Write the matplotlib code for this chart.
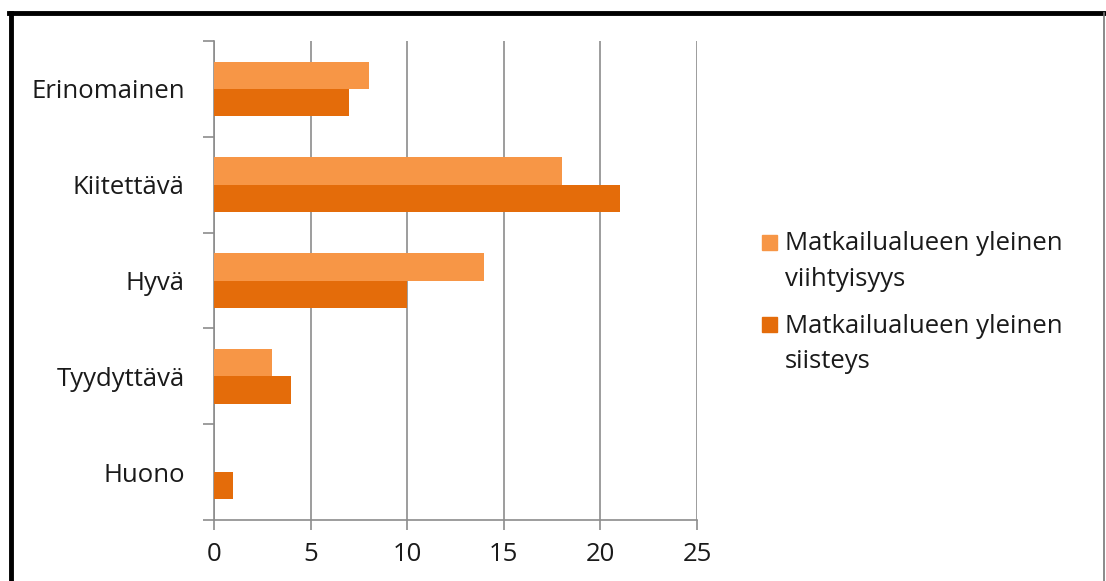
import matplotlib.pyplot as plt
import numpy as np
from matplotlib.lines import Line2D
from matplotlib.patches import Rectangle
from matplotlib.legend_handler import HandlerPatch

categories = ['Erinomainen', 'Kiitettävä', 'Hyvä', 'Tyydyttävä', 'Huono']
viihtyisyys = [8, 18, 14, 3, 0]
siisteys = [7, 21, 10, 4, 1]
series_labels = ['Matkailualueen yleinen\nviihtyisyys', 'Matkailualueen yleinen\nsiisteys']
xticks = [0, 5, 10, 15, 20, 25]

plt.rcParams['font.family'] = ['Open Sans', 'DejaVu Sans']
ftsize = 18.5
light = '#F79646'
dark = '#E46C0A'
axcol = '#8c8c8c'
txtcol = '#1a1a1a'


def top_square(legend, orig_handle, xdescent, ydescent, width, height, fontsize):
    # square next to the first line of a two-line label
    sq = 0.58 * fontsize
    return Rectangle((-xdescent, -ydescent + 0.78 * fontsize), sq, sq)


fig = plt.figure(figsize=(11.06, 5.81), dpi=100)
ax = fig.add_axes([0.1935, 0.105, 0.4367, 0.8244])

y = np.arange(len(categories))
h = 0.285
ax.barh(y - h / 2, viihtyisyys, height=h, color=light, zorder=3)
ax.barh(y + h / 2, siisteys, height=h, color=dark, zorder=3)

ax.set_xlim(0, 25)
ax.set_ylim(len(categories) - 0.5, -0.5)
ax.set_xticks(xticks)
ax.set_xticklabels([str(t) for t in xticks], fontsize=ftsize, color=txtcol)
ax.set_yticks(y)
ax.set_yticklabels(categories, fontsize=ftsize, color=txtcol)
ax.tick_params(axis='y', length=0, pad=21)
ax.set_yticks(np.arange(len(categories) + 1) - 0.5, minor=True)
ax.tick_params(axis='y', which='minor', length=8, color=axcol, width=1.2)
ax.tick_params(axis='x', length=7, color=axcol, width=1.2, pad=9)
ax.xaxis.grid(True, color=axcol, lw=1.2, zorder=0)

for s in ['top', 'right']:
    ax.spines[s].set_visible(False)
for s in ['left', 'bottom']:
    ax.spines[s].set_color(axcol)
    ax.spines[s].set_linewidth(1.2)

handles = [Rectangle((0, 0), 1, 1, color=light), Rectangle((0, 0), 1, 1, color=dark)]
leg = fig.legend(handles, series_labels, loc='center left', bbox_to_anchor=(0.689, 0.479),
                 frameon=False, fontsize=ftsize, handlelength=0.58, handleheight=0.58,
                 handletextpad=0.3, labelspacing=0.85, borderpad=0, borderaxespad=0,
                 handler_map={Rectangle: HandlerPatch(patch_func=top_square)})
for t in leg.get_texts():
    t.set_color(txtcol)
    t.set_linespacing(1.55)

# frame around the chart
fig.add_artist(Line2D([0.0095, 0.0095], [0.0, 0.978], color='black', lw=3.5))
fig.add_artist(Line2D([0.008, 0.9985], [0.978, 0.978], color='black', lw=3.5))
fig.add_artist(Line2D([0.998, 0.998], [0.0, 0.978], color='#777777', lw=1.2))

fig.savefig('out.png', dpi=100)
